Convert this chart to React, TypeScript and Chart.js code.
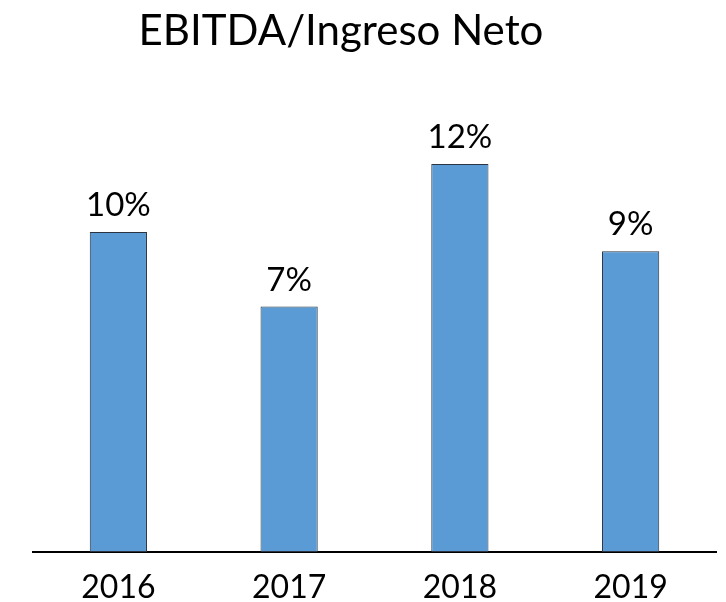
import React, { useEffect, useRef } from "react";
import { Chart, registerables } from "chart.js";

Chart.register(...registerables);

const TITLE = "EBITDA/Ingreso Neto";
const YEARS = ["2016", "2017", "2018", "2019"];
const VALUES = [9.67, 7.42, 11.73, 9.09];
const LABELS = ["10%", "7%", "12%", "9%"];

const FONT = "Lato, 'Open Sans', sans-serif";

const titlePlugin = {
  id: "customTitle",
  afterDraw(chart: any) {
    const ctx = chart.ctx;
    ctx.save();
    ctx.font = `42px ${FONT}`;
    ctx.fillStyle = "#000";
    ctx.textAlign = "center";
    ctx.textBaseline = "alphabetic";
    ctx.fillText(TITLE, 341, 45);
    ctx.restore();
  },
};

const labelPlugin = {
  id: "barLabels",
  afterDatasetsDraw(chart: any) {
    const ctx = chart.ctx;
    const meta = chart.getDatasetMeta(0);
    ctx.save();
    ctx.font = `33px ${FONT}`;
    ctx.fillStyle = "#000";
    ctx.textAlign = "center";
    ctx.textBaseline = "alphabetic";
    meta.data.forEach((bar: any, i: number) => {
      ctx.fillText(LABELS[i], bar.x, bar.y - 16);
    });
    ctx.restore();
  },
};

export default function App() {
  const ref = useRef<HTMLCanvasElement>(null);
  useEffect(() => {
    document.body.style.margin = "0";
    const chart = new Chart(ref.current!, {
      type: "bar",
      data: {
        labels: YEARS,
        datasets: [
          {
            data: VALUES,
            backgroundColor: "#5B9BD5",
            borderColor: "#2b3440",
            borderWidth: 1,
            borderSkipped: false,
            barPercentage: 1,
            categoryPercentage: 0.335,
          },
        ],
      },
      options: {
        animation: false,
        responsive: false,
        maintainAspectRatio: false,
        layout: { padding: { top: 155, left: 33, right: 10, bottom: -22 } },
        plugins: {
          legend: { display: false },
          title: { display: false },
          tooltip: { enabled: false },
        },
        scales: {
          x: {
            grid: { display: false, drawTicks: false },
            border: { display: true, color: "#000", width: 2 },
            ticks: {
              color: "#000",
              font: { family: FONT, size: 32, lineHeight: 1 },
              padding: 20,
            },
          },
          y: { display: false, min: 0, max: 12 },
        },
      },
      plugins: [titlePlugin, labelPlugin],
    });
    return () => chart.destroy();
  }, []);
  return (
    <div style={{ width: 726, height: 602 }}>
      <canvas ref={ref} width={726} height={602} style={{ display: "block" }} />
    </div>
  );
}
